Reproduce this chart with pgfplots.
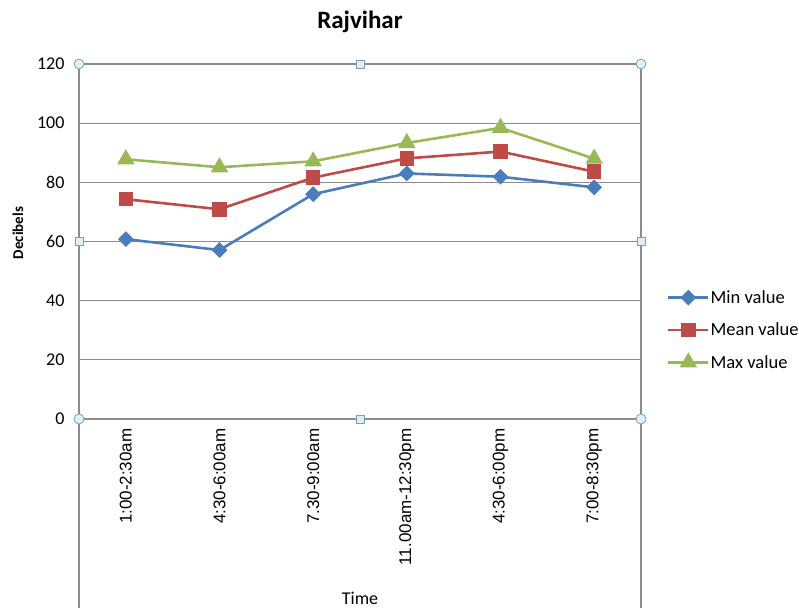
\documentclass[border=0pt]{standalone}
\usepackage{pgfplots}
\pgfplotsset{compat=1.18}
\usepackage{fontspec}
\setmainfont{Carlito}
\newfontfamily\arialf{Liberation Sans}
\definecolor{gridgray}{HTML}{8C8C8C}
\definecolor{minblue}{HTML}{4A7EBB}
\definecolor{meanred}{HTML}{BE4B48}
\definecolor{maxgreen}{HTML}{98B954}
\definecolor{hfill}{HTML}{DDF0F8}
\definecolor{hdraw}{HTML}{7F9DB9}
\begin{document}
\begin{tikzpicture}[x=1pt,y=1pt]
\path[use as bounding box] (-79,-188) rectangle (720,419);
\begin{axis}[name=ax, at={(0,0)}, anchor=south west,
  scale only axis, width=562pt, height=355pt,
  xmin=-0.5, xmax=5.5, ymin=0, ymax=120,
  ytick={0,20,...,120}, xtick={0,...,5},
  xticklabels={1:00-2:30am,4:30-6:00am,7.30-9:00am,11.00am-12:30pm,4:30-6:00pm,7:00-8:30pm},
  major tick length=0pt,
  ymajorgrids, grid style={gridgray, line width=1.3pt},
  axis line style={gridgray, line width=1.3pt},
  tick label style={font=\fontsize{18}{21}\selectfont},
  /pgf/number format/assume math mode=true,
  yticklabel style={xshift=-11pt},
  xticklabel style={yshift=-6pt, rotate=90, anchor=east, font=\arialf\fontsize{17}{20}\selectfont},
  title=Rajvihar,
  title style={at={(axis description cs:0.5,1.102)}, anchor=center, font=\bfseries\fontsize{25}{30}\selectfont},
  ylabel=Decibels,
  ylabel style={at={(axis description cs:-0.1085,0.524)}, anchor=center, font=\bfseries\fontsize{15}{18}\selectfont},
  xlabel=Time,
  xlabel style={at={(axis description cs:0.5,-0.504)}, anchor=center, font=\fontsize{18}{21}\selectfont},
  legend style={at={(axis description cs:1.046,0.2507)}, anchor=west, draw=none, fill=none,
    font=\fontsize{18.5}{21}\selectfont, row sep=16pt, inner sep=0pt,
    nodes={inner sep=1pt, anchor=west}},
  legend cell align=left,
  legend image code/.code={\draw[mark repeat=2,mark phase=2,#1] plot coordinates {(0pt,0pt)(20pt,0pt)(40pt,0pt)};},
  clip=false,
]
\addplot[minblue, line width=2.6pt, mark=square*, mark size=4.3pt, mark options={rotate=45, solid}]
  coordinates {(0,60.8) (1,57.1) (2,76.0) (3,83.0) (4,81.9) (5,78.3)};
\addlegendentry{Min value}
\addplot[meanred, line width=2.6pt, mark=square*, mark size=6pt, mark options={solid}]
  coordinates {(0,74.3) (1,70.9) (2,81.6) (3,88.1) (4,90.4) (5,83.6)};
\addlegendentry{Mean value}
\addplot[maxgreen, line width=2.6pt, mark=triangle*, mark size=7.5pt, mark options={solid}]
  coordinates {(0,87.8) (1,85.1) (2,87.1) (3,93.3) (4,98.4) (5,88.0)};
\addlegendentry{Max value}
\end{axis}
\draw[gridgray, line width=1.3pt] (0,0) -- (0,-200);
\draw[gridgray, line width=1.3pt] (562,0) -- (562,-200);
\foreach \p in {(0,0),(562,0),(0,355),(562,355)}
  \draw[hdraw, fill=hfill, line width=0.8pt] \p circle (5pt);
\foreach \p in {(281,0),(281,355),(0,177.5),(562,177.5)}
  \draw[hdraw, fill=hfill, line width=0.8pt] \p ++(-4,-4) rectangle ++(8,8);
\end{tikzpicture}
\end{document}
